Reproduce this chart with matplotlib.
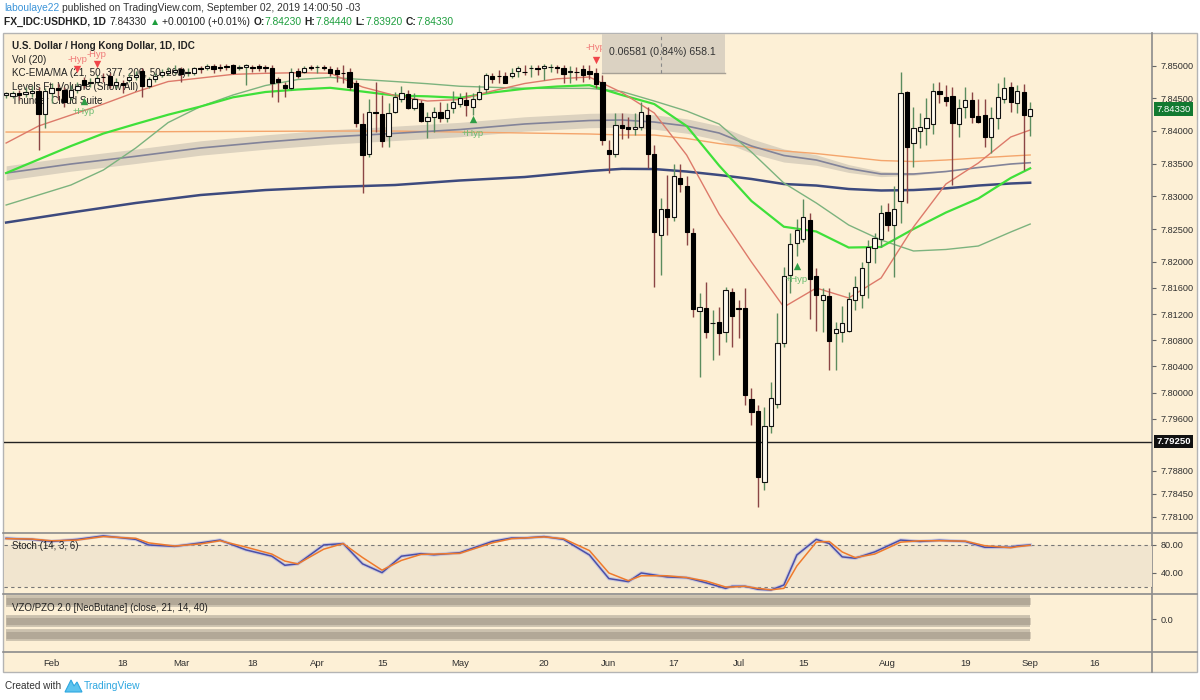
import numpy as np
import matplotlib
matplotlib.use('Agg')
import matplotlib.pyplot as plt
import matplotlib.transforms as mtrans
import pandas as pd
from matplotlib.patches import Rectangle, Polygon

plt.rcParams['font.family'] = ['Liberation Sans', 'DejaVu Sans']

# ---------------- data ----------------
last_date = '2019-09-02'
n_bars = 159

# OHLC, chronological (first bar -> last bar)
opens = [7.84549, 7.84539, 7.84574, 7.84559, 7.84574, 7.84615, 7.84258, 7.84574, 7.84651, 7.84625,
         7.84523, 7.84625, 7.84778, 7.84727, 7.84753, 7.84829, 7.84839, 7.84702, 7.84727, 7.84778,
         7.84829, 7.84921, 7.84687, 7.84788, 7.84855, 7.84890, 7.84906, 7.84941, 7.84880, 7.84880,
         7.84957, 7.84957, 7.84992, 7.84972, 7.84997, 7.85008, 7.84957, 7.84982, 7.84982, 7.85000,
         7.84972, 7.84967, 7.84794, 7.84702, 7.84651, 7.84921, 7.84906, 7.84972, 7.84972, 7.84972,
         7.84941, 7.84931, 7.84890, 7.84906, 7.84727, 7.84106, 7.83647, 7.84294, 7.84258, 7.83922,
         7.84294, 7.84483, 7.84560, 7.84345, 7.84422, 7.84156, 7.84218, 7.84294, 7.84192, 7.84345,
         7.84411, 7.84472, 7.84370, 7.84483, 7.84636, 7.84839, 7.84839, 7.84839, 7.84839, 7.84921,
         7.84906, 7.84957, 7.84957, 7.84957, 7.84972, 7.84972, 7.84957, 7.84906, 7.84906, 7.84941,
         7.84921, 7.84880, 7.84743, 7.83708, 7.83647, 7.84090, 7.84065, 7.84024, 7.84054, 7.84243,
         7.83647, 7.82408, 7.82801, 7.82688, 7.83275, 7.83157, 7.82434, 7.81251, 7.81287, 7.81057,
         7.81083, 7.80930, 7.81542, 7.81287, 7.81287, 7.79895, 7.79722, 7.78637, 7.79488, 7.79824,
         7.80762, 7.81797, 7.82291, 7.82342, 7.82637, 7.81781, 7.81414, 7.81475, 7.80904, 7.80930,
         7.80945, 7.81414, 7.81491, 7.81995, 7.82204, 7.82342, 7.82765, 7.82561, 7.82933, 7.84590,
         7.83810, 7.84003, 7.84039, 7.84100, 7.84615, 7.84523, 7.84534, 7.84105, 7.84360, 7.84472,
         7.84228, 7.84243, 7.83912, 7.84202, 7.84483, 7.84676, 7.84421, 7.84600, 7.84230]
highs = [7.84600, 7.84615, 7.84625, 7.84676, 7.84687, 7.84676, 7.84651, 7.84727, 7.84727, 7.84676,
         7.84702, 7.84753, 7.84829, 7.84804, 7.84855, 7.84880, 7.84880, 7.84804, 7.84778, 7.84880,
         7.84921, 7.84957, 7.84829, 7.84880, 7.84941, 7.84972, 7.85008, 7.84972, 7.84957, 7.84982,
         7.84992, 7.85023, 7.85023, 7.85023, 7.85023, 7.85023, 7.85008, 7.85023, 7.85008, 7.85023,
         7.85008, 7.85008, 7.84829, 7.84753, 7.84957, 7.84957, 7.84992, 7.85008, 7.85008, 7.85008,
         7.84992, 7.84982, 7.85008, 7.84957, 7.84778, 7.84269, 7.84483, 7.84753, 7.84549, 7.84422,
         7.84600, 7.84687, 7.84625, 7.84574, 7.84472, 7.84294, 7.84370, 7.84447, 7.84432, 7.84615,
         7.84585, 7.84600, 7.84574, 7.84702, 7.84880, 7.84880, 7.84931, 7.84906, 7.84957, 7.84992,
         7.85008, 7.85008, 7.85008, 7.85023, 7.85023, 7.85008, 7.85008, 7.84992, 7.84982, 7.85008,
         7.85008, 7.84957, 7.84855, 7.83861, 7.84268, 7.84268, 7.84217, 7.84268, 7.84447, 7.84370,
         7.83784, 7.82969, 7.83326, 7.83494, 7.83494, 7.83310, 7.82510, 7.81516, 7.81694, 7.81261,
         7.81312, 7.81618, 7.81593, 7.81414, 7.81593, 7.80064, 7.79809, 7.79783, 7.80165, 7.81210,
         7.81924, 7.82434, 7.82650, 7.82953, 7.82750, 7.81898, 7.81593, 7.81593, 7.81083, 7.81322,
         7.81542, 7.81781, 7.82000, 7.82332, 7.82444, 7.82867, 7.82902, 7.83157, 7.84906, 7.84615,
         7.84370, 7.84268, 7.84498, 7.84727, 7.84753, 7.84702, 7.84666, 7.84483, 7.84676, 7.84600,
         7.84483, 7.84483, 7.84370, 7.84727, 7.84829, 7.84753, 7.84702, 7.84717, 7.84440]
lows = [7.84498, 7.84498, 7.84472, 7.84523, 7.84523, 7.83708, 7.84040, 7.84422, 7.84472, 7.84370,
        7.84472, 7.84574, 7.84651, 7.84676, 7.84727, 7.84753, 7.84651, 7.84651, 7.84574, 7.84753,
        7.84778, 7.84523, 7.84651, 7.84753, 7.84829, 7.84855, 7.84870, 7.84753, 7.84839, 7.84855,
        7.84880, 7.84931, 7.84880, 7.84921, 7.84931, 7.84870, 7.84931, 7.84702, 7.84906, 7.84921,
        7.84906, 7.84523, 7.84447, 7.84523, 7.84625, 7.84804, 7.84880, 7.84931, 7.84880, 7.84931,
        7.84840, 7.84753, 7.84727, 7.84625, 7.84065, 7.83046, 7.83606, 7.83988, 7.83758, 7.83758,
        7.84268, 7.84447, 7.84330, 7.84320, 7.84141, 7.83886, 7.83988, 7.84141, 7.84141, 7.84279,
        7.84370, 7.84228, 7.84243, 7.84472, 7.84574, 7.84727, 7.84727, 7.84727, 7.84804, 7.84829,
        7.84855, 7.84829, 7.84855, 7.84778, 7.84906, 7.84880, 7.84727, 7.84727, 7.84778, 7.84753,
        7.84788, 7.84651, 7.83784, 7.83351, 7.83606, 7.83871, 7.83886, 7.83937, 7.84014, 7.83427,
        7.81618, 7.81797, 7.82408, 7.82627, 7.83071, 7.82255, 7.81159, 7.80242, 7.80828, 7.80497,
        7.80573, 7.80777, 7.80701, 7.80828, 7.79809, 7.79503, 7.78254, 7.78509, 7.79376, 7.79758,
        7.80701, 7.81516, 7.82080, 7.82306, 7.81118, 7.80945, 7.80930, 7.80344, 7.80344, 7.80777,
        7.80930, 7.81261, 7.81287, 7.81440, 7.81985, 7.82230, 7.82474, 7.81761, 7.82586, 7.82902,
        7.83453, 7.83733, 7.83784, 7.83952, 7.84421, 7.84381, 7.83173, 7.83912, 7.84192, 7.84116,
        7.84116, 7.83749, 7.83667, 7.84024, 7.84421, 7.84294, 7.84268, 7.83402, 7.83920]
closes = [7.84574, 7.84574, 7.84549, 7.84600, 7.84615, 7.84258, 7.84615, 7.84651, 7.84625, 7.84447,
          7.84625, 7.84687, 7.84702, 7.84753, 7.84804, 7.84819, 7.84702, 7.84753, 7.84702, 7.84829,
          7.84855, 7.84687, 7.84788, 7.84839, 7.84906, 7.84921, 7.84931, 7.84870, 7.84906, 7.84957,
          7.84941, 7.84992, 7.84941, 7.84967, 7.84982, 7.84890, 7.84972, 7.85008, 7.84962, 7.84957,
          7.84967, 7.84727, 7.84743, 7.84651, 7.84906, 7.84840, 7.84957, 7.84967, 7.84977, 7.84967,
          7.84880, 7.84865, 7.84885, 7.84666, 7.84116, 7.83632, 7.84284, 7.84269, 7.83850, 7.84269,
          7.84523, 7.84585, 7.84345, 7.84483, 7.84156, 7.84218, 7.84294, 7.84192, 7.84320, 7.84447,
          7.84498, 7.84396, 7.84483, 7.84600, 7.84855, 7.84788, 7.84834, 7.84737, 7.84890, 7.84957,
          7.84901, 7.84962, 7.84952, 7.84992, 7.84977, 7.84967, 7.84870, 7.84911, 7.84900, 7.84855,
          7.84870, 7.84717, 7.83861, 7.83647, 7.84090, 7.84039, 7.84029, 7.84054, 7.84294, 7.83647,
          7.82459, 7.82801, 7.82688, 7.83315, 7.83188, 7.82459, 7.81271, 7.81302, 7.80930, 7.81067,
          7.80915, 7.81567, 7.81169, 7.81277, 7.79961, 7.79707, 7.78713, 7.79488, 7.79911, 7.80752,
          7.81781, 7.82270, 7.82485, 7.82678, 7.81730, 7.81491, 7.81486, 7.80787, 7.80966, 7.81057,
          7.81424, 7.81608, 7.81898, 7.82219, 7.82357, 7.82740, 7.82561, 7.82801, 7.84584, 7.83749,
          7.84039, 7.84065, 7.84192, 7.84615, 7.84559, 7.84462, 7.84126, 7.84355, 7.84472, 7.84217,
          7.84141, 7.83901, 7.84202, 7.84523, 7.84661, 7.84437, 7.84615, 7.84243, 7.84330]

# moving averages, read at selected bars
fast_idx = [0, 5, 10, 15, 20, 25, 30, 35, 40, 45, 50, 55, 60, 65, 70, 75, 80, 85, 90, 95,
            100, 105, 110, 115, 120, 125, 130, 135, 140, 145, 150, 155, 158]
ema21 = [7.83815, 7.84075, 7.84243, 7.84411, 7.84595, 7.84755, 7.84809, 7.84865, 7.84881, 7.84890,
         7.84882, 7.84671, 7.84541, 7.84457, 7.84480, 7.84610, 7.84725, 7.84797, 7.84824, 7.84587,
         7.84274, 7.83631, 7.82729, 7.81995, 7.81307, 7.81598, 7.81445, 7.81751, 7.82531, 7.83188,
         7.83509, 7.83907, 7.84014]
ema50 = [7.83356, 7.83563, 7.83769, 7.83960, 7.84106, 7.84248, 7.84373, 7.84514, 7.84595, 7.84633,
         7.84659, 7.84602, 7.84541, 7.84529, 7.84506, 7.84587, 7.84645, 7.84679, 7.84699, 7.84549,
         7.84411, 7.84075, 7.83471, 7.82928, 7.82535, 7.82462, 7.82217, 7.82225, 7.82500, 7.82752,
         7.82966, 7.83280, 7.83428]
ma50 = [7.82867, 7.83020, 7.83173, 7.83402, 7.83739, 7.84128, 7.84373, 7.84549, 7.84694, 7.84786,
        7.84818, 7.84786, 7.84755, 7.84722, 7.84683, 7.84667, 7.84651, 7.84651, 7.84651, 7.84602,
        7.84457, 7.84304, 7.84106, 7.83677, 7.83203, 7.82898, 7.82561, 7.82332, 7.82164, 7.82187,
        7.82240, 7.82454, 7.82576]

slow_idx = [0, 10, 20, 30, 40, 50, 60, 70, 80, 90, 95, 100, 105, 110, 115, 120, 125, 130, 135,
            140, 145, 150, 155, 158]
ema377 = [7.83983, 7.83983, 7.83986, 7.83991, 7.83994, 7.83998, 7.83998, 7.83983, 7.83968, 7.83953,
          7.83937, 7.83937, 7.83884, 7.83807, 7.83746, 7.83693, 7.83654, 7.83601, 7.83547, 7.83532,
          7.83555, 7.83586, 7.83616, 7.83632]
ema200 = [7.83356, 7.83494, 7.83612, 7.83739, 7.83830, 7.83907, 7.83963, 7.84021, 7.84106, 7.84159,
          7.84167, 7.84136, 7.84075, 7.83968, 7.83769, 7.83624, 7.83555, 7.83425, 7.83341, 7.83341,
          7.83379, 7.83440, 7.83494, 7.83514]
band_half = [0.0011, 0.0011, 0.0011, 0.0011, 0.0011, 0.0011, 0.0011, 0.0011, 0.0011, 0.0011,
             0.0011, 0.0011, 0.0011, 0.0011, 0.0011, 0.0010, 0.0008, 0.0006, 0.0004, 0.0002,
             0.0, 0.0, 0.0, 0.0]
ma200 = [7.82599, 7.82752, 7.82898, 7.83020, 7.83096, 7.83142, 7.83173, 7.83242, 7.83295, 7.83387,
         7.83420, 7.83417, 7.83379, 7.83326, 7.83265, 7.83188, 7.83165, 7.83112, 7.83089, 7.83096,
         7.83122, 7.83165, 7.83196, 7.83208]

# stochastic, read at selected bars
stoch_idx = [0, 4, 7, 11, 15, 20, 22, 26, 30, 33, 37, 41, 43, 45, 49, 52, 55, 58, 61, 64,
             66, 70, 75, 78, 80, 83, 86, 90, 93, 96, 98, 102, 105, 108, 111, 112, 114, 116, 118, 120,
             122, 125, 127, 129, 131, 134, 138, 141, 144, 148, 151, 155, 156, 158]
stoch_k = [89.5, 88, 85, 88, 93, 88, 80, 78, 83, 87, 73, 64, 51, 53, 80, 82, 53, 40.5, 64, 67.6,
           66, 69, 85, 90, 90, 92, 88, 65.7, 32, 27.6, 40, 34.3, 33.3, 26, 18, 21, 21, 16.7, 15.7, 22.8,
           65.7, 88, 82, 63, 61, 70, 87, 85, 86.7, 85, 76.7, 76.7, 78.6, 80]
stoch_d = [89, 88.5, 86, 87, 92, 89.5, 83, 78.5, 81.5, 86, 77, 67, 57, 53, 74, 82, 62, 44, 58, 66.5,
           67, 68, 83, 89, 90, 91.5, 89, 72, 40, 29, 36, 36, 33.5, 28.5, 20, 20, 21, 18, 16, 18,
           50, 84, 85, 70, 62, 67, 84, 86, 86, 85.5, 79, 76, 77.5, 79.5]

vzo_levels = [40, -5, -35]

price_ticks = [7.85, 7.845, 7.84, 7.835, 7.83, 7.825, 7.82, 7.816, 7.812, 7.808, 7.804, 7.80,
               7.796, 7.788, 7.7845, 7.781]
x_tick_dates = ['2019-02-01', '2019-02-18', '2019-03-01', '2019-03-18', '2019-04-01', '2019-04-15',
                '2019-05-01', '2019-05-20', '2019-06-03', '2019-06-17', '2019-07-01', '2019-07-15',
                '2019-08-01', '2019-08-19', '2019-09-02', '2019-09-16']
x_tick_labels = ['Feb', '18', 'Mar', '18', 'Apr', '15', 'May', '20', 'Jun', '17', 'Jul', '15',
                 'Aug', '19', 'Sep', '16']

level_line = 7.7925
last_price = 7.8433

# markers: (bar, price of triangle, price of text, kind)
hyp_marks = [(11, 7.84942, 7.85095, '-'), (14, 7.85018, 7.85176, '-'), (12, 7.84457, 7.84294, '+'),
             (72, 7.84182, 7.83968, '+'), (91, 7.85084, 7.85283, '-'), (122, 7.81934, 7.81735, '+')]

# ---------------- figure ----------------
W, H = 1200, 700
fig = plt.figure(figsize=(12, 7), dpi=100)
fig.patch.set_facecolor('white')

BG = '#fdf0d6'
SEP = '#8c8c8c'
TXT = '#2f2f2f'

bg = fig.add_axes([0, 0, 1, 1])
bg.set_xlim(0, W)
bg.set_ylim(H, 0)
bg.axis('off')
bg.add_patch(Rectangle((3, 33), 1194, 639, facecolor=BG, edgecolor='#b4b4b4', lw=1))
for yy in (532.5, 593.5, 651.5):
    bg.plot([3, 1197], [yy, yy], color=SEP, lw=1.2)
bg.plot([1152, 1152], [33, 672], color=SEP, lw=1.2)


def add_ax(x0, y0, x1, y1):
    a = fig.add_axes([x0 / W, 1 - y1 / H, (x1 - x0) / W, (y1 - y0) / H])
    a.patch.set_alpha(0)
    for s in a.spines.values():
        s.set_visible(False)
    return a


dates = pd.bdate_range(end=last_date, periods=n_bars)
start = dates[0].date()
xpos = np.arange(n_bars)
XL = (-0.33, 176.8)

O = np.array(opens); Hh = np.array(highs); Lw = np.array(lows); C = np.array(closes)

# ---- main pane ----
ax = add_ax(4, 34, 1152, 532)
ax.set_xlim(*XL)
ax.set_ylim(7.77867, 7.85482)
ax.set_xticks([])
ax.yaxis.tick_right()
ax.set_yticks(price_ticks)
ax.set_yticklabels(['%.5f' % v for v in price_ticks])
ax.tick_params(axis='y', length=3, width=0.8, color='#666666', pad=3, labelsize=6.6, labelcolor=TXT)

# band + MAs
si = np.array(slow_idx)
g200 = np.array(ema200)
bh = np.array(band_half)
ax.fill_between(si, g200 - bh, g200 + bh, color='#dcd2bf', lw=0, zorder=1)
ax.plot(si, ema377, color='#f4a56c', lw=1.0, zorder=2)
ax.plot(si, ema200, color='#828399', lw=1.2, zorder=2)
ax.plot(si, ma200, color='#3d4a7e', lw=1.8, zorder=2)
ax.plot(fast_idx, ma50, color='#7cb37e', lw=1.0, zorder=2)
ax.plot(fast_idx, ema50, color='#3fe03a', lw=1.6, zorder=2)
ax.plot(fast_idx, ema21, color='#dd7a6a', lw=1.0, zorder=2)

ax.axhline(level_line, color='#222222', lw=1.0, zorder=2)

# candles
up = C >= O
ax.vlines(xpos[up], Lw[up], Hh[up], color='#5b8c5e', lw=1.0, zorder=3)
ax.vlines(xpos[~up], Lw[~up], Hh[~up], color='#8b4545', lw=1.0, zorder=3)
bottoms = np.minimum(O, C)
heights = np.maximum(np.abs(C - O), 0.00004)
ax.bar(xpos[up], heights[up], bottom=bottoms[up], width=0.66, color='#fffaef',
       edgecolor='#111111', linewidth=0.8, zorder=4)
ax.bar(xpos[~up], heights[~up], bottom=bottoms[~up], width=0.66, color='#000000',
       edgecolor='#000000', linewidth=0.8, zorder=4)

# markers
for b, ptri, ptxt, kind in hyp_marks:
    if kind == '-':
        ax.scatter([b], [ptri], marker='v', s=28, color='#f0464a', zorder=5, lw=0)
        ax.text(b, ptxt, '-Hyp', color='#f07a78', fontsize=6.8, ha='center', va='center', zorder=5)
    else:
        ax.scatter([b], [ptri], marker='^', s=28, color='#2e9d45', zorder=5, lw=0)
        ax.text(b, ptxt, '+Hyp', color='#6cbc70', fontsize=6.8, ha='center', va='center', zorder=5)

# measurement box
ax.add_patch(Rectangle((91.9, 7.8489), 110.9 - 91.9, 7.85482 - 7.8489, facecolor='#dbd2c2',
                       edgecolor='none', zorder=6))
ax.plot([91.9, 110.9], [7.8489, 7.8489], color='#a7a196', lw=1.0, zorder=6)
ax.plot([101.1, 101.1], [7.8489, 7.85482], color='#8a8a8a', lw=0.8, ls=(0, (3, 3)), zorder=6)
ax.text(101.3, 7.85205, '0.06581 (0.84%) 658.1', fontsize=7.6, color='#333333', ha='center',
        va='center', zorder=7)

# legend texts (behind candles)
legend_lines = [('U.S. Dollar / Hong Kong Dollar, 1D, IDC', 46, 'bold'), ('Vol (20)', 60, 'normal'),
                ('KC-EMA/MA (21, 50, 377, 200, 50, 200)', 73.5, 'normal'),
                ('Levels Ft. Volume (Show All)', 87, 'normal'), ('Thunder Cloud Suite', 100.5, 'normal')]
for s, py, wt in legend_lines:
    ax.text(12 / W, 1 - py / H, s, transform=fig.transFigure, fontsize=7.1, fontweight=wt,
            color='#222222', va='center', ha='left', zorder=1.5)

# price label boxes
blend = mtrans.blended_transform_factory(ax.transAxes, ax.transData)
ax.text(1.004, last_price, '7.84330', transform=blend, fontsize=6.8, color='white', va='center',
        ha='left', zorder=8, clip_on=False,
        bbox=dict(boxstyle='square,pad=0.25', facecolor='#127a31', edgecolor='none'))
ax.text(1.004, level_line, '7.79250', transform=blend, fontsize=6.8, color='white', va='center',
        ha='left', zorder=8, clip_on=False, fontweight='bold',
        bbox=dict(boxstyle='square,pad=0.25', facecolor='#111111', edgecolor='none'))

# ---- stochastic pane ----
ax2 = add_ax(4, 533, 1152, 593)
ax2.set_xlim(*XL)
ax2.set_ylim(11.4, 97.1)
ax2.set_xticks([])
ax2.fill_between([XL[0], XL[1]], 20, 80, color='#f1e5cf', lw=0, zorder=1)
for lv in (80, 20):
    ax2.axhline(lv, color='#777777', lw=0.8, ls=(0, (3, 3)), zorder=2)
ax2.plot(stoch_idx, stoch_k, color='#b3b5e0', lw=2.6, alpha=0.6, zorder=3)
ax2.plot(stoch_idx, stoch_k, color='#4b4fa8', lw=1.1, zorder=4)
ax2.plot(stoch_idx, stoch_d, color='#ef7a2c', lw=1.1, zorder=4)
ax2.yaxis.tick_right()
ax2.set_yticks([80, 40])
ax2.set_yticklabels(['80.00', '40.00'])
ax2.tick_params(axis='y', length=3, width=0.8, color='#666666', pad=3, labelsize=6.6, labelcolor=TXT)
ax2.text(8 / 1148, 1 - (546 - 533) / 60, 'Stoch (14, 3, 6)', transform=ax2.transAxes, fontsize=7.0,
         color='#222222', va='center', ha='left', zorder=5)

# ---- VZO pane ----
ax3 = add_ax(4, 594, 1152, 651)
ax3.set_xlim(*XL)
ax3.set_ylim(-71.1, 55.6)
for lv in vzo_levels:
    ax3.plot([0, n_bars - 1], [lv, lv], color='#cbc1ae', lw=8.5, solid_capstyle='butt', zorder=2)
    ax3.plot([0, n_bars - 1], [lv, lv], color='#b2a897', lw=5.0, solid_capstyle='butt', zorder=3)
ax3.yaxis.tick_right()
ax3.set_yticks([0])
ax3.set_yticklabels(['0.0'])
ax3.tick_params(axis='y', length=3, width=0.8, color='#666666', pad=3, labelsize=6.6, labelcolor=TXT)
ax3.text(8 / 1148, 1 - (608 - 594) / 57, 'VZO/PZO 2.0 [NeoButane] (close, 21, 14, 40)',
         transform=ax3.transAxes, fontsize=7.0, color='#222222', va='center', ha='left', zorder=5)

tick_pos = [np.busday_count(start, pd.Timestamp(d).date()) for d in x_tick_dates]
ax3.set_xticks(tick_pos)
ax3.set_xticklabels(x_tick_labels)
ax3.tick_params(axis='x', length=0, pad=6, labelsize=6.8, labelcolor=TXT)

# ---- header ----
renderer = fig.canvas.get_renderer()


def seq_text(parts, x0, py, size):
    x = x0
    for s, color, wt, gap in parts:
        t = fig.text(x / W, 1 - py / H, s, color=color, fontsize=size, fontweight=wt,
                     va='center', ha='left')
        bb = t.get_window_extent(renderer=renderer)
        x += bb.width + gap


seq_text([('laboulaye22', '#3b94d9', 'normal', 3),
          ('published on TradingView.com, September 02, 2019 14:00:50 -03', '#333333', 'normal', 0)],
         4, 8, 7.4)
G = '#1e9e3e'
seq_text([('FX_IDC:USDHKD, 1D', '#222222', 'bold', 4), ('7.84330', '#222222', 'normal', 3),
          ('▲', G, 'normal', 2), ('+0.00100 (+0.01%)', '#222222', 'normal', 3),
          ('O:', '#222222', 'bold', 0), ('7.84230', G, 'normal', 3),
          ('H:', '#222222', 'bold', 0), ('7.84440', G, 'normal', 3),
          ('L:', '#222222', 'bold', 0), ('7.83920', G, 'normal', 3),
          ('C:', '#222222', 'bold', 0), ('7.84330', G, 'normal', 0)],
         4, 22, 7.4)

# ---- footer ----
fig.text(5 / W, 1 - 686 / H, 'Created with', fontsize=7.2, color='#333333', va='center', ha='left')
bg.add_patch(Polygon([[65, 692], [71, 680], [74, 686], [77, 682], [82, 692]], closed=True,
                     facecolor='#5cc3ee', edgecolor='#2ea7e0', lw=0.8))
fig.text(84 / W, 1 - 686 / H, 'TradingView', fontsize=7.4, color='#2ea7e0', va='center', ha='left')

fig.savefig('out.png', dpi=100, facecolor='white')
